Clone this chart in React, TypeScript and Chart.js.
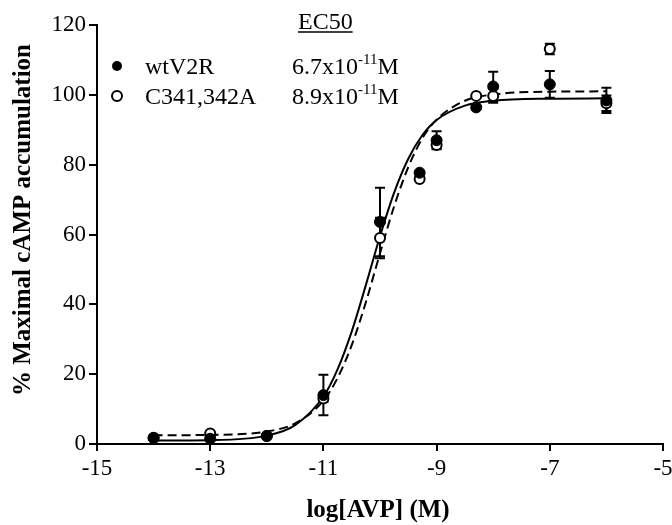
import React, { useEffect, useRef } from "react";
import Chart from "chart.js/auto";

const doseX = [-14, -13, -12, -11, -10, -9.3, -9, -8.3, -8, -7, -6];
const wtValues = [1.7, 1.5, 2.3, 14.0, 63.6, 77.7, 87.0, 96.4, 102.4, 103.0, 98.4];
const wtErrors = [0.5, 0.5, 0.5, 5.8, 9.8, 0.5, 2.6, 0.5, 4.2, 3.8, 3.6];
const mutValues = [1.8, 3.0, 2.3, 13.0, 59.0, 75.9, 85.6, 99.7, 99.7, 113.1, 97.6];
const mutErrors = [0.5, 0.5, 0.5, 1.0, 5.8, 0.5, 1.0, 0.5, 2.0, 1.5, 2.2];

const curveX = [-14, -13, -12, -11.5, -11, -10.75, -10.5, -10.25, -10, -9.75, -9.5, -9.25, -9, -8.5, -8, -7, -6];
const wtCurve = [1.0, 1.1, 2.4, 5.4, 13.6, 21.4, 32.2, 45.5, 59.5, 72.0, 81.7, 88.5, 92.8, 96.9, 98.3, 98.9, 99.0];
const mutCurve = [2.5, 2.6, 3.6, 5.9, 12.4, 18.9, 28.3, 40.6, 54.6, 68.1, 79.3, 87.6, 92.9, 98.3, 100.1, 100.9, 101.0];

const seriesNames = ["wtV2R", "C341,342A"];
const ec50Mantissa = ["6.7x10", "8.9x10"];
const ec50Exp = "-11";
const ec50Unit = "M";
const legendHeader = "EC50";
const xTitle = "log[AVP] (M)";
const yTitle = "% Maximal cAMP accumulation";

const FONT = "'Liberation Serif', 'Times New Roman', serif";

const errorBarPlugin = {
  id: "errorBars",
  beforeDatasetsDraw(chart: any) {
    const ctx = chart.ctx;
    const xs = chart.scales.x;
    const ys = chart.scales.y;
    ctx.save();
    ctx.strokeStyle = "#000";
    ctx.lineWidth = 2;
    const sets = [
      { v: mutValues, e: mutErrors },
      { v: wtValues, e: wtErrors },
    ];
    sets.forEach((s) => {
      doseX.forEach((x, i) => {
        const px = xs.getPixelForValue(x);
        const top = ys.getPixelForValue(s.v[i] + s.e[i]);
        const bot = ys.getPixelForValue(s.v[i] - s.e[i]);
        ctx.beginPath();
        ctx.moveTo(px, top);
        ctx.lineTo(px, bot);
        ctx.moveTo(px - 5, top);
        ctx.lineTo(px + 5, top);
        ctx.moveTo(px - 5, bot);
        ctx.lineTo(px + 5, bot);
        ctx.stroke();
      });
    });
    ctx.restore();
  },
};

const annotationPlugin = {
  id: "annotations",
  afterDraw(chart: any) {
    const ctx = chart.ctx;
    ctx.save();
    ctx.fillStyle = "#000";
    ctx.strokeStyle = "#000";
    ctx.save();
    ctx.translate(24, 220);
    ctx.rotate(-Math.PI / 2);
    ctx.font = `bold 25px ${FONT}`;
    ctx.textAlign = "center";
    ctx.textBaseline = "middle";
    ctx.fillText(yTitle, 0, 0);
    ctx.restore();
    ctx.font = `bold 25px ${FONT}`;
    ctx.textAlign = "center";
    ctx.textBaseline = "middle";
    ctx.fillText(xTitle, 378, 511);
    ctx.font = `24px ${FONT}`;
    ctx.textAlign = "left";
    ctx.textBaseline = "alphabetic";
    const hx = 298;
    const hy = 29;
    ctx.fillText(legendHeader, hx, hy);
    const hw = ctx.measureText(legendHeader).width;
    ctx.lineWidth = 1.5;
    ctx.beginPath();
    ctx.moveTo(hx, hy + 3);
    ctx.lineTo(hx + hw, hy + 3);
    ctx.stroke();
    const rows = [74, 104];
    rows.forEach((by, i) => {
      ctx.beginPath();
      ctx.arc(117, by - 8, 5, 0, Math.PI * 2);
      if (i === 0) {
        ctx.fillStyle = "#000";
        ctx.fill();
      } else {
        ctx.fillStyle = "#fff";
        ctx.fill();
        ctx.lineWidth = 2;
        ctx.stroke();
      }
      ctx.fillStyle = "#000";
      ctx.font = `24px ${FONT}`;
      ctx.fillText(seriesNames[i], 145, by);
      let x = 292;
      ctx.fillText(ec50Mantissa[i], x, by);
      x += ctx.measureText(ec50Mantissa[i]).width;
      ctx.font = `15px ${FONT}`;
      ctx.fillText(ec50Exp, x, by - 10);
      x += ctx.measureText(ec50Exp).width;
      ctx.font = `24px ${FONT}`;
      ctx.fillText(ec50Unit, x, by);
    });
    ctx.restore();
  },
};

export default function App() {
  const ref = useRef<HTMLCanvasElement>(null);
  useEffect(() => {
    if (!ref.current) return;
    const tickFont = { family: FONT, size: 23 };
    const chart = new Chart(ref.current, {
      type: "scatter",
      data: {
        datasets: [
          {
            data: doseX.map((x, i) => ({ x, y: wtValues[i] })),
            backgroundColor: "#000",
            borderColor: "#000",
            borderWidth: 1,
            pointRadius: 5.5,
          },
          {
            data: doseX.map((x, i) => ({ x, y: mutValues[i] })),
            backgroundColor: "#fff",
            borderColor: "#000",
            borderWidth: 2,
            pointRadius: 5,
          },
          {
            type: "line",
            data: curveX.map((x, i) => ({ x, y: wtCurve[i] })),
            borderColor: "#000",
            borderWidth: 2,
            pointRadius: 0,
            cubicInterpolationMode: "monotone",
            fill: false,
          },
          {
            type: "line",
            data: curveX.map((x, i) => ({ x, y: mutCurve[i] })),
            borderColor: "#000",
            borderWidth: 2,
            borderDash: [9, 5],
            pointRadius: 0,
            cubicInterpolationMode: "monotone",
            fill: false,
          },
        ],
      } as any,
      options: {
        animation: false,
        responsive: true,
        maintainAspectRatio: false,
        layout: { padding: { top: 25, right: 9, left: 0, bottom: 0 } },
        plugins: { legend: { display: false }, tooltip: { enabled: false } },
        scales: {
          x: {
            type: "linear",
            min: -15,
            max: -5,
            ticks: { stepSize: 2, font: tickFont, color: "#000", padding: 4, maxRotation: 0 },
            grid: { drawOnChartArea: false, drawTicks: true, tickLength: 7, color: "#000", lineWidth: 2 },
            border: { display: true, color: "#000", width: 2 },
            afterFit(scale: any) {
              scale.height = 81;
              scale.paddingLeft = 0;
              scale.paddingRight = 0;
            },
          },
          y: {
            min: 0,
            max: 120,
            ticks: { stepSize: 20, font: tickFont, color: "#000", padding: 3 },
            grid: { drawOnChartArea: false, drawTicks: true, tickLength: 8, color: "#000", lineWidth: 2 },
            border: { display: true, color: "#000", width: 2 },
            afterFit(scale: any) {
              scale.width = 97;
              scale.paddingTop = 0;
              scale.paddingBottom = 0;
            },
          },
        },
      } as any,
      plugins: [errorBarPlugin, annotationPlugin],
    });
    return () => chart.destroy();
  }, []);
  return (
    <div style={{ position: "absolute", left: 0, top: 0, width: 672, height: 525, background: "#fff" }}>
      <canvas ref={ref} />
    </div>
  );
}
